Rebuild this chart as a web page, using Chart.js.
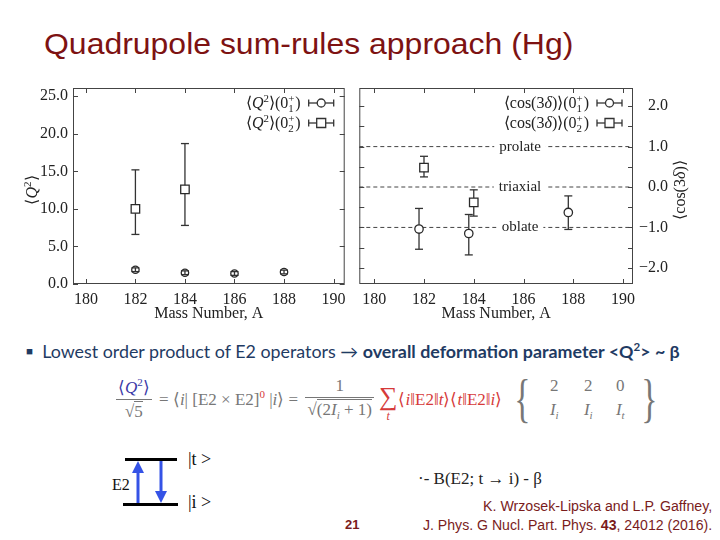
<!DOCTYPE html>
<html>
<head>
<meta charset="utf-8">
<script src="https://cdn.jsdelivr.net/npm/chart.js@4.4.0/dist/chart.umd.min.js"></script>
<style>
  html, body { margin: 0; padding: 0; background: #fff; }
  body { width: 720px; height: 540px; position: relative; overflow: hidden; }
  .abs { position: absolute; white-space: nowrap; }
  #title { left: 44px; top: 28px; font: 29px "Liberation Sans", Arial, sans-serif; color: #7d1212; transform-origin: left center; }
  .serif { font-family: "Liberation Serif", "Times New Roman", serif; color: #222; }
  .ytitle { width: 120px; height: 20px; line-height: 20px; text-align: center; font-size: 16px; transform: rotate(-90deg); }
  #bullet { left: 26px; top: 340px; font: 17px Lato, "Open Sans", sans-serif; color: #1f3b63; transform-origin: left center; }
  #bullet b { font-weight: 700; }
  #formula { left: 113px; top: 371px; height: 56px; display: flex; align-items: center; font: 17px "Liberation Serif", serif; color: #777; }
  .frac { display: inline-flex; flex-direction: column; align-items: center; margin: 0 3px; }
  .frac .num { align-self: stretch; text-align: center; padding: 0 2px 1px; border-bottom: 1px solid #777; }
  .frac .den { padding: 2px 2px 0; }
  .rad { border-top: 1px solid #777; }
  .blue { color: #3a3aa8; }
  .red { color: #d63a3a; }
  .sum { display: inline-flex; flex-direction: column; align-items: center; line-height: 1; margin: 8px 1px 0 2px; }
  .sum .sig { font-size: 26px; }
  .sum i { font-size: 12px; }
  .brace { font-size: 52px; font-weight: 100; transform: scaleX(0.65); line-height: 1; margin: 0 2px; }
  .mat { display: grid; grid-template-columns: 34px 34px 30px; row-gap: 4px; text-align: center; }
  sup, sub { font-size: 11px; }
  #cite1, #cite2 { right: 8px; font: 14px "Liberation Sans", Arial, sans-serif; color: #7a1c1c; transform-origin: right center; }
  #page { left: 345px; top: 517px; font: bold 13px "Liberation Sans", Arial, sans-serif; color: #7a1c1c; }
  #bexpr { left: 418px; top: 469px; font-size: 17px; }
</style>
</head>
<body>

<div id="title" class="abs" data-w="529">Quadrupole sum-rules approach (Hg)</div>

<div class="abs" style="left:0;top:80px;width:352px;height:245px;"><canvas id="q2Chart"></canvas></div>
<div class="abs" style="left:352px;top:80px;width:368px;height:245px;"><canvas id="cosChart"></canvas></div>

<div class="abs serif ytitle" style="left:-33px;top:180px;">⟨<i>Q</i><sup>2</sup>⟩</div>
<div class="abs serif ytitle" style="left:620px;top:180px;">⟨cos(3<i>δ</i>)⟩</div>

<div id="bullet" class="abs" data-w="654"><span style="font-size:11px;vertical-align:3px;">■</span>&nbsp; Lowest order product of E2 operators → <b>overall deformation parameter &lt;Q<sup style="font-size:11px">2</sup>&gt; ~ β</b></div>

<div id="formula" class="abs">
  <span class="frac"><span class="num blue" style="border-color:#777">⟨<i>Q</i><sup>2</sup>⟩</span><span class="den">√<span class="rad">5</span></span></span>
  <span>&nbsp;= ⟨<i>i</i>| [E2 × E2]<sup class="red">0</sup> |<i>i</i>⟩ =&nbsp;</span>
  <span class="frac"><span class="num">1</span><span class="den">√<span class="rad">(2<i>I<sub>i</sub></i> + 1)</span></span></span>
  <span class="sum red"><span class="sig">∑</span><i>t</i></span>
  <span class="red">⟨<i>i</i>‖E2‖<i>t</i>⟩⟨<i>t</i>‖E2‖<i>i</i>⟩</span>
  <span class="brace" style="margin-left:8px">{</span>
  <span class="mat"><span>2</span><span>2</span><span>0</span><span><i>I<sub>i</sub></i></span><span><i>I<sub>i</sub></i></span><span><i>I<sub>t</sub></i></span></span>
  <span class="brace">}</span>
</div>

<svg class="abs" style="left:0;top:440px;" width="260" height="80">
  <defs>
    <marker id="ah" markerWidth="4" markerHeight="4" refX="2" refY="2" orient="auto" markerUnits="strokeWidth">
      <path d="M0,0 L4,2 L0,4 z" fill="#3553e6"/>
    </marker>
  </defs>
  <line x1="125" y1="19.5" x2="177" y2="19.5" stroke="#000" stroke-width="3"/>
  <line x1="123" y1="64.5" x2="178" y2="64.5" stroke="#000" stroke-width="3"/>
  <line x1="138" y1="63" x2="138" y2="27" stroke="#3553e6" stroke-width="3" marker-end="url(#ah)"/>
  <line x1="161" y1="21" x2="161" y2="57" stroke="#3553e6" stroke-width="3" marker-end="url(#ah)"/>
  <text x="112" y="50" font-family="Liberation Serif" font-size="16" fill="#111">E2</text>
  <text x="188" y="25" font-family="Liberation Serif" font-size="18" fill="#111">|t &gt;</text>
  <text x="188" y="68" font-family="Liberation Serif" font-size="18" fill="#111">|i &gt;</text>
</svg>

<div id="bexpr" class="abs serif">·- B(E2; t → i) - β</div>
<div id="cite1" class="abs" style="top:498px;" data-w="229">K. Wrzosek-Lipska and L.P. Gaffney,</div>
<div id="cite2" class="abs" style="top:517px;" data-w="289">J. Phys. G Nucl. Part. Phys. <b>43</b>, 24012 (2016).</div>
<div id="page" class="abs">21</div>

<script>
// left panel: <Q^2> per mass number
const q2Mass1 = [182, 184, 186, 188];
const q2Val1 = [1.9, 1.5, 1.4, 1.6];
const q2Lo1 = [1.65, 1.25, 1.15, 1.35];
const q2Hi1 = [2.15, 1.75, 1.65, 1.85];
const q2Mass2 = [182, 184];
const q2Val2 = [10.0, 12.6];
const q2Lo2 = [6.6, 7.8];
const q2Hi2 = [15.2, 18.7];

// right panel: <cos(3 delta)>
const cosMass1 = [181.8, 183.8, 187.8];
const cosVal1 = [-1.04, -1.15, -0.63];
const cosLo1 = [-1.54, -1.68, -1.05];
const cosHi1 = [-0.53, -0.68, -0.22];
const cosMass2 = [182.0, 184.0];
const cosVal2 = [0.48, -0.38];
const cosLo2 = [0.25, -0.72];
const cosHi2 = [0.76, -0.07];

const shapeLevels = [1, 0, -1];
const shapeNames = ['prolate', 'triaxial', 'oblate'];

const INK = '#222';
const SERIF = '"Liberation Serif", "Times New Roman", serif';

function pts(xs, ys) { return xs.map((x, i) => ({x: x, y: ys[i]})); }

function line(ctx, x1, y1, x2, y2) {
  ctx.beginPath(); ctx.moveTo(x1, y1); ctx.lineTo(x2, y2); ctx.stroke();
}

// error bars with caps, drawn under the markers
const errorBars = {
  id: 'errorBars',
  beforeDatasetsDraw(chart) {
    const ctx = chart.ctx, y = chart.scales.y;
    ctx.save();
    ctx.strokeStyle = '#333';
    ctx.lineWidth = 1.3;
    chart.data.datasets.forEach((ds, i) => {
      if (!ds.errLo) return;
      chart.getDatasetMeta(i).data.forEach((p, j) => {
        const top = y.getPixelForValue(ds.errHi[j]);
        const bot = y.getPixelForValue(ds.errLo[j]);
        line(ctx, p.x, top, p.x, bot);
        line(ctx, p.x - 4, top, p.x + 4, top);
        line(ctx, p.x - 4, bot, p.x + 4, bot);
      });
    });
    ctx.restore();
  }
};

// box round the plot area and inward ticks on all four sides
const frame = {
  id: 'frame',
  afterDraw(chart) {
    const {ctx, chartArea: a, scales} = chart;
    ctx.save();
    ctx.strokeStyle = '#444';
    ctx.lineWidth = 1;
    ctx.strokeRect(a.left + 0.5, a.top + 0.5, a.right - a.left - 1, a.bottom - a.top - 1);
    scales.x.ticks.forEach(t => {
      const px = Math.round(scales.x.getPixelForValue(t.value)) + 0.5;
      line(ctx, px, a.bottom, px, a.bottom - 5);
      line(ctx, px, a.top, px, a.top + 5);
    });
    scales.y.ticks.forEach(t => {
      const py = Math.round(scales.y.getPixelForValue(t.value)) + 0.5;
      line(ctx, a.left, py, a.left + 5, py);
      line(ctx, a.right, py, a.right - 5, py);
    });
    ctx.restore();
  }
};

// text with italics, superscripts and stacked sup/sub
function richParts(ctx, parts, size, draw, x0, y0) {
  let x = x0;
  parts.forEach(p => {
    const kind = p[p.length - 1];
    if (kind === 'ss') {
      ctx.font = (size * 0.68) + 'px ' + SERIF;
      const w = Math.max(ctx.measureText(p[0]).width, ctx.measureText(p[1]).width);
      if (draw) {
        ctx.fillText(p[0], x, y0 - size * 0.38);
        ctx.fillText(p[1], x, y0 + size * 0.25);
      }
      x += w + 1;
    } else if (kind === 'sup') {
      ctx.font = (size * 0.68) + 'px ' + SERIF;
      if (draw) ctx.fillText(p[0], x, y0 - size * 0.38);
      x += ctx.measureText(p[0]).width;
    } else {
      ctx.font = (kind === 'i' ? 'italic ' : '') + size + 'px ' + SERIF;
      if (draw) ctx.fillText(p[0], x, y0);
      x += ctx.measureText(p[0]).width;
    }
  });
  return x - x0;
}

const boxLegend = {
  id: 'boxLegend',
  afterDraw(chart, args, opts) {
    if (!opts.items) return;
    const {ctx, chartArea: a} = chart;
    ctx.save();
    ctx.fillStyle = INK;
    ctx.strokeStyle = '#333';
    ctx.lineWidth = 1.3;
    ctx.textBaseline = 'alphabetic';
    opts.items.forEach((it, k) => {
      const y = a.top + 15 + k * 20;
      const x2 = a.right - 11, x1 = x2 - 25, xm = (x1 + x2) / 2;
      line(ctx, x1, y, x2, y);
      line(ctx, x1, y - 3.5, x1, y + 3.5);
      line(ctx, x2, y - 3.5, x2, y + 3.5);
      ctx.fillStyle = '#fff';
      ctx.beginPath();
      if (it.style === 'rect') ctx.rect(xm - 4.5, y - 4.5, 9, 9);
      else ctx.arc(xm, y, 4, 0, Math.PI * 2);
      ctx.fill(); ctx.stroke();
      ctx.fillStyle = INK;
      const w = richParts(ctx, it.parts, 16, false, 0, 0);
      richParts(ctx, it.parts, 16, true, x1 - 8 - w, y + 5);
    });
    ctx.restore();
  }
};

// shape labels sitting on the dashed reference lines
const shapeLabels = {
  id: 'shapeLabels',
  afterDatasetsDraw(chart, args, opts) {
    if (!opts.names) return;
    const {ctx, scales} = chart;
    ctx.save();
    ctx.font = '15px ' + SERIF;
    ctx.textAlign = 'center';
    ctx.textBaseline = 'middle';
    opts.levels.forEach((lv, i) => {
      const x = scales.x.getPixelForValue(opts.at), y = scales.y.getPixelForValue(lv);
      const w = ctx.measureText(opts.names[i]).width;
      ctx.fillStyle = '#fff';
      ctx.fillRect(x - w / 2 - 5, y - 8, w + 10, 16);
      ctx.fillStyle = INK;
      ctx.fillText(opts.names[i], x, y);
    });
    ctx.restore();
  }
};

function fmt(v) {
  return (v < 0 ? '\u2212' : '') + Math.abs(v).toFixed(1);
}

// fixed axis sizes, no extra room asked for half labels at the ends
function fixSize(w, h) {
  return s => {
    if (w) s.width = w;
    if (h) s.height = h;
    s.paddingTop = 0; s.paddingBottom = 0;
    s.paddingLeft = 0; s.paddingRight = 0;
  };
}

function massAxis(min, max) {
  return {
    type: 'linear', min: min, max: max,
    afterFit: fixSize(0, 41),
    grid: {display: false, drawTicks: false}, border: {display: false},
    ticks: {stepSize: 2, includeBounds: false, autoSkip: false, maxRotation: 0, padding: 6,
            color: INK, font: {family: SERIF, size: 16}, callback: v => v},
    title: {display: true, text: 'Mass Number, A', color: INK, font: {family: SERIF, size: 16},
            padding: {top: 2, bottom: 2}}
  };
}

const marker = (extra) => Object.assign({borderColor: '#2a2a2a', borderWidth: 1.3, hoverRadius: 0}, extra);

new Chart(document.getElementById('q2Chart'), {
  type: 'scatter',
  data: {
    datasets: [
      marker({data: pts(q2Mass1, q2Val1), errLo: q2Lo1, errHi: q2Hi1,
              pointStyle: 'circle', radius: 3.7, backgroundColor: 'rgba(255,255,255,0)'}),
      marker({data: pts(q2Mass2, q2Val2), errLo: q2Lo2, errHi: q2Hi2,
              pointStyle: 'rect', radius: 6, backgroundColor: '#fff'})
    ]
  },
  options: {
    responsive: true, maintainAspectRatio: false, animation: false,
    layout: {padding: {top: 8, right: 4, left: 0, bottom: 0}},
    plugins: {
      legend: {display: false}, tooltip: {enabled: false},
      boxLegend: {items: [
        {style: 'circle', parts: [['⟨', 'n'], ['Q', 'i'], ['2', 'sup'], ['⟩(0', 'n'], ['+', '1', 'ss'], [')', 'n']]},
        {style: 'rect', parts: [['⟨', 'n'], ['Q', 'i'], ['2', 'sup'], ['⟩(0', 'n'], ['+', '2', 'ss'], [')', 'n']]}
      ]}
    },
    scales: {
      x: massAxis(179.48, 190.45),
      y: {
        min: 0, max: 26.1,
        afterFit: fixSize(73, 0),
        grid: {display: false, drawTicks: false}, border: {display: false},
        ticks: {stepSize: 2.5, includeBounds: false, padding: 5, color: INK,
                font: {family: SERIF, size: 16},
                callback: v => (Math.abs(v % 5) < 1e-9 ? fmt(v) : '')}
      }
    }
  },
  plugins: [errorBars, frame, boxLegend]
});

const refLines = shapeLevels.map(lv => ({
  data: [{x: 179.4, y: lv}, {x: 190.4, y: lv}],
  showLine: true, borderDash: [4, 3], borderColor: '#444', borderWidth: 1,
  pointRadius: 0, hoverRadius: 0
}));

new Chart(document.getElementById('cosChart'), {
  type: 'scatter',
  data: {
    datasets: [
      marker({data: pts(cosMass1, cosVal1), errLo: cosLo1, errHi: cosHi1,
              pointStyle: 'circle', radius: 4.2, backgroundColor: '#fff'}),
      marker({data: pts(cosMass2, cosVal2), errLo: cosLo2, errHi: cosHi2,
              pointStyle: 'rect', radius: 6, backgroundColor: '#fff'})
    ].concat(refLines)
  },
  options: {
    responsive: true, maintainAspectRatio: false, animation: false,
    layout: {padding: {top: 8, right: 52, left: 5, bottom: 0}},
    plugins: {
      legend: {display: false}, tooltip: {enabled: false},
      shapeLabels: {levels: shapeLevels, names: shapeNames, at: 185.86},
      boxLegend: {items: [
        {style: 'circle', parts: [['⟨cos(3', 'n'], ['δ', 'i'], [')⟩(0', 'n'], ['+', '1', 'ss'], [')', 'n']]},
        {style: 'rect', parts: [['⟨cos(3', 'n'], ['δ', 'i'], [')⟩(0', 'n'], ['+', '2', 'ss'], [')', 'n']]}
      ]}
    },
    scales: {
      x: massAxis(179.4, 190.4),
      y: {
        position: 'right', min: -2.4, max: 2.45,
        afterFit: fixSize(35, 0),
        grid: {display: false, drawTicks: false}, border: {display: false},
        ticks: {stepSize: 0.5, includeBounds: false, padding: 5, crossAlign: 'far', color: INK,
                font: {family: SERIF, size: 16},
                callback: v => (Math.abs(v - Math.round(v)) < 1e-9 ? fmt(v) : '')}
      }
    }
  },
  plugins: [errorBars, shapeLabels, frame, boxLegend]
});

// squeeze slide texts to the widths they take in the original
document.fonts.ready.then(() => {
  document.querySelectorAll('[data-w]').forEach(el => {
    const k = Number(el.dataset.w) / el.offsetWidth;
    el.style.transform = 'scaleX(' + k.toFixed(3) + ')';
  });
});
</script>
</body>
</html>
